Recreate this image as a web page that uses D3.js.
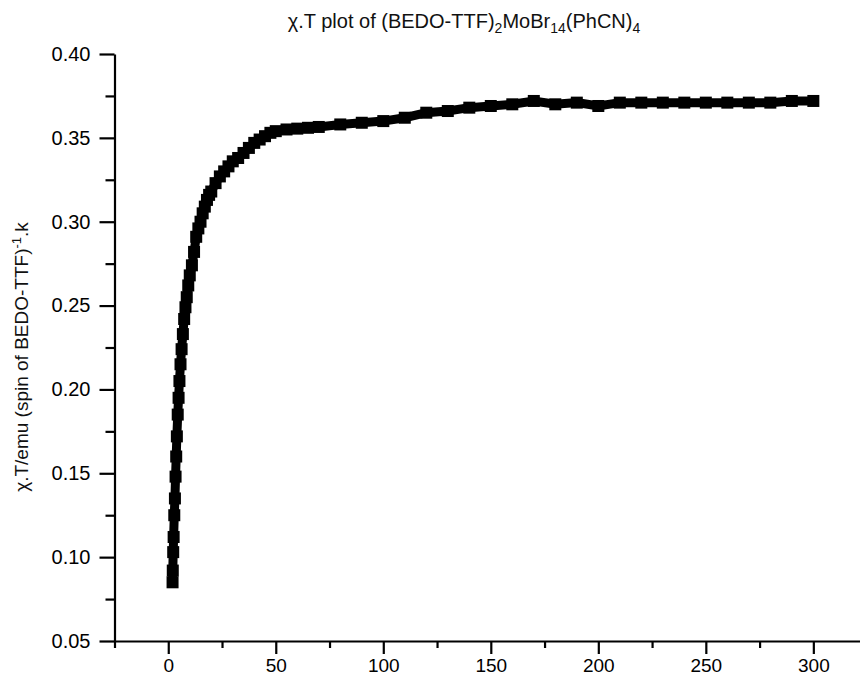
<!DOCTYPE html>
<html>
<head>
<meta charset="utf-8">
<script src="https://cdn.jsdelivr.net/npm/d3@7"></script>
<style>
  body { margin: 0; background: #fff; }
  svg { display: block; font-family: "Liberation Sans", Arial, sans-serif; }
</style>
</head>
<body>
<svg id="chart" width="860" height="678"></svg>
<script>
// temperature (K) and chi.T values
const temps = [2, 2.1, 2.3, 2.5, 2.8, 3.1, 3.4, 3.7, 4.0, 4.4, 4.8, 5.2, 5.7, 6.2, 6.8, 7.4, 8.0, 8.6, 9.3, 10,
  11, 12, 13, 14, 15, 16, 17, 18, 19, 20, 22, 24, 26, 28, 30, 32.5, 35, 37.5, 40, 42.5, 45, 47.5, 50,
  55, 60, 65, 70, 80, 90, 100, 110, 120, 130, 140, 150, 160, 170, 180, 190, 200, 210, 220, 230, 240,
  250, 260, 270, 280, 290, 300];
const chiT = [0.085, 0.092, 0.103, 0.112, 0.125, 0.135, 0.148, 0.160, 0.172, 0.185, 0.195, 0.205, 0.215, 0.224, 0.233, 0.242, 0.249, 0.255, 0.262, 0.268,
  0.274, 0.282, 0.291, 0.296, 0.300, 0.305, 0.309, 0.313, 0.316, 0.318, 0.323, 0.327, 0.330, 0.333, 0.336, 0.338, 0.341, 0.344, 0.347, 0.349, 0.351, 0.353, 0.354,
  0.355, 0.3555, 0.356, 0.3565, 0.358, 0.359, 0.360, 0.362, 0.365, 0.366, 0.368, 0.369, 0.370, 0.372, 0.370, 0.371, 0.369, 0.371, 0.371, 0.371, 0.371,
  0.371, 0.371, 0.371, 0.371, 0.372, 0.372];

const xMajor = [0, 50, 100, 150, 200, 250, 300];
const xMinor = [-25, 25, 75, 125, 175, 225, 275];
const yMajor = [0.05, 0.10, 0.15, 0.20, 0.25, 0.30, 0.35, 0.40];
const yMinor = [0.075, 0.125, 0.175, 0.225, 0.275, 0.325, 0.375];

const svg = d3.select('#chart');
const plotLeft = 114.5, plotRight = 860, plotTop = 54, plotBottom = 641;

const x = d3.scaleLinear().domain([-25, 321.7]).range([plotLeft, plotRight]);
const y = d3.scaleLinear().domain([0.05, 0.40]).range([plotBottom, plotTop]);

// x axis
const gx = svg.append('g').attr('transform', `translate(0,${plotBottom})`)
  .call(d3.axisBottom(x).tickValues(xMajor).tickSize(13).tickSizeOuter(0).tickPadding(5)
    .tickFormat(d3.format('d')));
gx.selectAll('.tick text').attr('font-size', 19);
svg.append('g').attr('transform', `translate(0,${plotBottom})`)
  .call(d3.axisBottom(x).tickValues(xMinor).tickSize(7).tickSizeOuter(0).tickFormat(''))
  .select('.domain').remove();

// y axis
const gy = svg.append('g').attr('transform', `translate(${plotLeft},0)`)
  .call(d3.axisLeft(y).tickValues(yMajor).tickSize(15).tickSizeOuter(0).tickPadding(9)
    .tickFormat(d3.format('.2f')));
gy.selectAll('.tick text').attr('font-size', 20);
svg.append('g').attr('transform', `translate(${plotLeft},0)`)
  .call(d3.axisLeft(y).tickValues(yMinor).tickSize(9).tickSizeOuter(0).tickFormat(''))
  .select('.domain').remove();

svg.selectAll('.domain, .tick line').attr('stroke', '#000').attr('stroke-width', 2.2);
svg.selectAll('.tick text').attr('fill', '#000')
  .attr('font-family', '"Liberation Sans", Arial, sans-serif');

// data
const data = temps.map((t, i) => ({t: t, v: chiT[i]}));
const s = 12;

svg.append('path')
  .datum(data)
  .attr('fill', 'none')
  .attr('stroke', '#000')
  .attr('stroke-width', 9)
  .attr('d', d3.line().x(d => x(d.t)).y(d => y(d.v)));

svg.append('g').selectAll('rect')
  .data(data)
  .enter()
  .append('rect')
  .attr('x', d => x(d.t) - s / 2)
  .attr('y', d => y(d.v) - s / 2)
  .attr('width', s)
  .attr('height', s)
  .attr('fill', '#000');

// title
const title = svg.append('text')
  .attr('x', 464)
  .attr('y', 28)
  .attr('text-anchor', 'middle')
  .attr('font-size', 20)
  .attr('fill', '#111');
title.append('tspan').text('χ.T plot of (BEDO-TTF)');
title.append('tspan').attr('font-size', 14).attr('dy', 5).text('2');
title.append('tspan').attr('dy', -5).text('MoBr');
title.append('tspan').attr('font-size', 14).attr('dy', 5).text('14');
title.append('tspan').attr('dy', -5).text('(PhCN)');
title.append('tspan').attr('font-size', 14).attr('dy', 5).text('4');

// y label
const ylab = svg.append('text')
  .attr('transform', 'translate(28,357) rotate(-90)')
  .attr('text-anchor', 'middle')
  .attr('font-size', 19)
  .attr('fill', '#111');
ylab.append('tspan').text('χ.T/emu (spin of BEDO-TTF)');
ylab.append('tspan').attr('font-size', 13).attr('dy', -7).text('-1');
ylab.append('tspan').attr('dy', 7).text('.k');
</script>
</body>
</html>
